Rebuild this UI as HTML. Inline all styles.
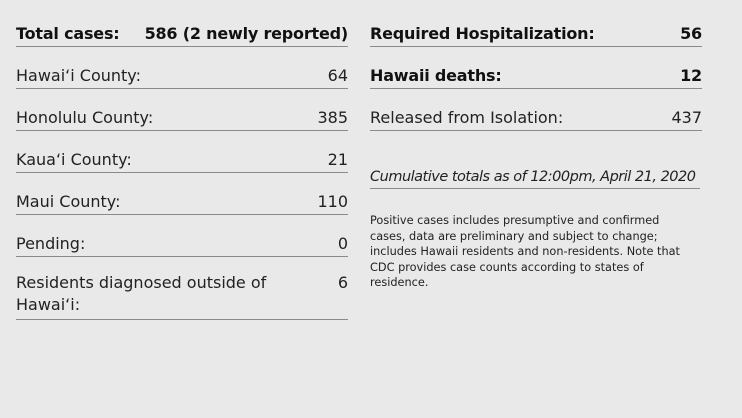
<!DOCTYPE html>
<html><head><meta charset="utf-8"><style>
body{margin:0;width:742px;height:418px;background:#e8e9e8;font-family:"DejaVu Sans","Liberation Sans",sans-serif;color:#222;overflow:hidden;position:relative}
.row{position:absolute;display:flex;justify-content:space-between;align-items:flex-end;border-bottom:1px solid #8a8a8a;font-size:16px;padding-bottom:3px;box-sizing:border-box;letter-spacing:0px;white-space:nowrap}
.l{left:16px;width:332px}.r{left:370px;width:332px}
.b{font-weight:bold;color:#111;font-size:16px;letter-spacing:-0.2px}
.note{position:absolute;left:370px;top:213px;width:312px;font-size:11.3px;line-height:15.5px;color:#222;letter-spacing:0px}
</style></head><body>
<div class="row l b" style="top:22px;height:25px"><span>Total cases:</span><span>586 (2 newly reported)</span></div>
<div class="row l" style="top:63px;height:26px"><span>Hawai‘i County:</span><span>64</span></div>
<div class="row l" style="top:105px;height:26px"><span>Honolulu County:</span><span>385</span></div>
<div class="row l" style="top:147px;height:26px"><span>Kaua‘i County:</span><span>21</span></div>
<div class="row l" style="top:189px;height:26px"><span>Maui County:</span><span>110</span></div>
<div class="row l" style="top:231px;height:26px"><span>Pending:</span><span>0</span></div>
<div class="row l" style="top:272px;height:48px;align-items:flex-start;line-height:22px"><span>Residents diagnosed outside of<br>Hawai‘i:</span><span>6</span></div>
<div class="row r b" style="top:22px;height:25px"><span>Required Hospitalization:</span><span>56</span></div>
<div class="row r b" style="top:63px;height:26px"><span>Hawaii deaths:</span><span>12</span></div>
<div class="row r" style="top:105px;height:26px"><span>Released from Isolation:</span><span>437</span></div>
<div class="row r" style="top:164px;height:25px;width:330px;font-style:italic;font-size:14.5px;letter-spacing:-0.5px"><span>Cumulative totals as of 12:00pm, April 21, 2020</span></div>
<div class="note">Positive cases includes presumptive and confirmed cases, data are preliminary and subject to change; includes Hawaii residents and non-residents. Note that CDC provides case counts according to states of residence.</div>
</body></html>
